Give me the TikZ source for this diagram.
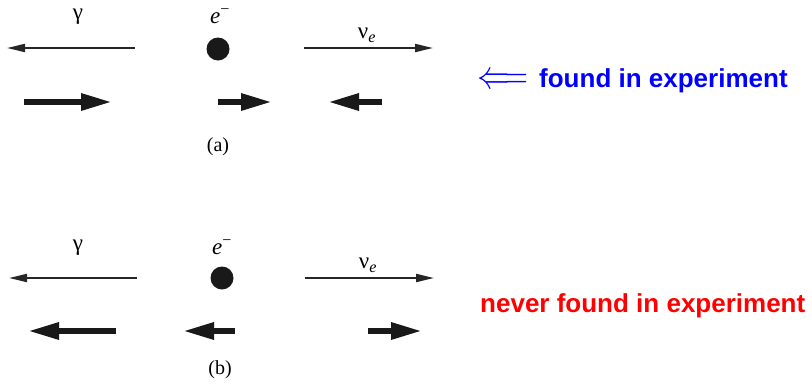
\documentclass[tikz,border=0pt]{standalone}
\usepackage{fontspec}
\setmainfont{Liberation Serif}
\newfontfamily\notefont{Liberation Sans}
\usepackage{tikz}
\usetikzlibrary{arrows.meta, positioning}

\tikzset{
  momentum/.style={line width=2pt, black!85, -{Triangle[length=18pt,width=8pt]}},
  spin/.style={line width=6pt, black!90, -{Triangle[length=31pt,width=16pt]}},
  electron/.style={circle, fill=black!90, inner sep=0pt, minimum size=23pt},
  particle/.style={font=\fontsize{23}{25}\selectfont},
  caption/.style={font=\fontsize{20}{22}\selectfont},
  note/.style={font=\notefont\bfseries\fontsize{26}{28}\selectfont, inner sep=0pt},
}

\begin{document}
\begin{tikzpicture}[x=1pt, y=-1pt]
    \useasboundingbox (0,0) rectangle (812,389);

    % (a) momenta
    \node[particle] (ga) at (78,17) {γ};
    \node[particle] (ea) at (220,16) {\textit{e}\textsuperscript{−}};
    \node[particle] (na) at (367,35) {ν\textsubscript{\textit{e}}};
    \node[electron] (dota) at (218,49) {};
    \coordinate (ga0) at (135,48);  \coordinate (ga1) at (7,48);
    \coordinate (na0) at (304,48);  \coordinate (na1) at (433,48);
    \draw[momentum] (ga0) -- (ga1);
    \draw[momentum] (na0) -- (na1);

    % (a) spins
    \coordinate (sa1) at (24,102);  \coordinate (sa2) at (112,102);
    \coordinate (sa3) at (218,102); \coordinate (sa4) at (272,102);
    \coordinate (sa5) at (382,102); \coordinate (sa6) at (328,102);
    \draw[spin] (sa1) -- (sa2);
    \draw[spin] (sa3) -- (sa4);
    \draw[spin] (sa5) -- (sa6);
    \node[caption] (capa) at (218,147) {(a)};

    % (b) momenta
    \node[particle] (gb) at (78,248) {γ};
    \node[particle] (eb) at (222,247) {\textit{e}\textsuperscript{−}};
    \node[particle] (nb) at (368,265) {ν\textsubscript{\textit{e}}};
    \node[electron] (dotb) at (222,278) {};
    \coordinate (gb0) at (137,278); \coordinate (gb1) at (9,278);
    \coordinate (nb0) at (305,278); \coordinate (nb1) at (434,278);
    \draw[momentum] (gb0) -- (gb1);
    \draw[momentum] (nb0) -- (nb1);

    % (b) spins
    \coordinate (sb1) at (116,331); \coordinate (sb2) at (28,331);
    \coordinate (sb3) at (235,331); \coordinate (sb4) at (183,331);
    \coordinate (sb5) at (368,331); \coordinate (sb6) at (422,331);
    \draw[spin] (sb1) -- (sb2);
    \draw[spin] (sb3) -- (sb4);
    \draw[spin] (sb5) -- (sb6);
    \node[caption] (capb) at (220,370) {(b)};

    % Notes
    \node[note, blue, anchor=west] (found) at (539,81) {found in experiment};
    \node[note, blue, left=11pt of found.west] (hint) {\scalebox{1.3}[1.6]{$\Longleftarrow$}};
    \node[note, red, anchor=west] (never) at (480,306) {never found in experiment};
\end{tikzpicture}
\end{document}
